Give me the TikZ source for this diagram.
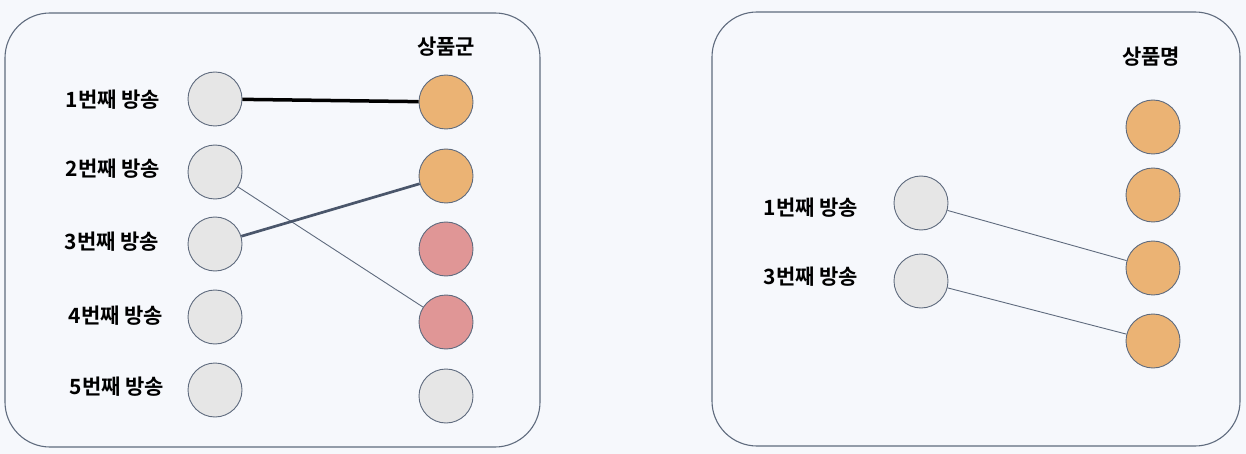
\documentclass[tikz,border=0pt]{standalone}
\usepackage{fontspec}
\newfontfamily\krfont{Noto Sans CJK KR}[BoldFont={* Bold}]
\definecolor{bgc}{HTML}{F6F8FC}
\definecolor{edgec}{HTML}{5F6B7E}
\definecolor{grayf}{HTML}{E6E6E6}
\definecolor{orangef}{HTML}{EBB374}
\definecolor{redf}{HTML}{E09696}
\definecolor{slate}{HTML}{4A566B}
\tikzset{
  panel/.style={draw=edgec, line width=1.1pt, rounded corners=45pt},
  dot/.style={circle, draw=edgec, line width=0.9pt, minimum size=54pt, inner sep=0pt},
  gdot/.style={dot, fill=grayf},
  odot/.style={dot, fill=orangef},
  rdot/.style={dot, fill=redf},
  lbl/.style={font=\krfont\bfseries\fontsize{21}{24}\selectfont, text=black},
  thinlink/.style={draw=edgec, line width=0.9pt},
}
\begin{document}
\begin{tikzpicture}[x=1pt,y=-1pt]
\fill[bgc] (0,0) rectangle (1246,454);
\useasboundingbox (0,0) rectangle (1246,454);
% left panel
\draw[panel] (5,13) rectangle (540,447);
\node[lbl] (t1) at (446,47) {상품군};
\foreach \i/\y in {1/99,2/172,3/244,4/317,5/390}{
  \node[gdot] (a\i) at (215,\y) {};
}
\node[lbl] (la1) at (113,100) {1번째 방송};
\node[lbl] (la2) at (113,169) {2번째 방송};
\node[lbl] (la3) at (112,242) {3번째 방송};
\node[lbl] (la4) at (116,316) {4번째 방송};
\node[lbl] (la5) at (117,387) {5번째 방송};
\node[odot] (b1) at (446,102) {};
\node[odot] (b2) at (446,176) {};
\node[rdot] (b3) at (446,249) {};
\node[rdot] (b4) at (446,322) {};
\node[gdot] (b5) at (446,396) {};
\draw[black, line width=3.5pt] (a1) -- (b1);
\draw[thinlink] (a2) -- (b4);
\draw[slate, line width=2.7pt] (a3) -- (b2);
% right panel
\draw[panel] (712,12) rectangle (1240,446);
\node[lbl] (t2) at (1151,57) {상품명};
\node[gdot] (c1) at (921,203) {};
\node[gdot] (c3) at (921,281) {};
\node[lbl] (lc1) at (811,208) {1번째 방송};
\node[lbl] (lc3) at (811,277) {3번째 방송};
\node[odot] (d1) at (1153,127) {};
\node[odot] (d2) at (1153,195) {};
\node[odot] (d3) at (1153,268) {};
\node[odot] (d4) at (1153,341) {};
\draw[thinlink] (c1) -- (d3);
\draw[thinlink] (c3) -- (d4);
\end{tikzpicture}
\end{document}
